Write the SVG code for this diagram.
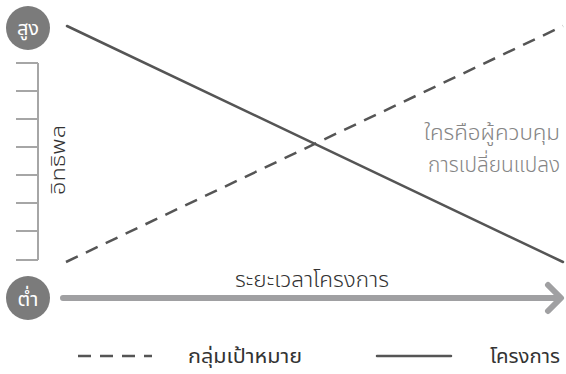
<svg xmlns="http://www.w3.org/2000/svg" width="566" height="374" viewBox="0 0 566 374">
<style>
text{font-family:"Noto Sans Thai","Noto Sans","DejaVu Sans",sans-serif;font-weight:300;}
.lbl{font-size:20px;fill:#333;}
.leg{font-size:20px;fill:#333;font-weight:400;}
.big{font-size:22px;fill:#333;}
.note{font-size:22px;fill:#858585;}
.circ{fill:#7b7b7b;}
.ctext{font-size:20px;fill:#fff;text-anchor:middle;font-weight:400;}
.ruler{stroke:#a6a6a6;stroke-width:2;fill:none;}
.solid{stroke:#555;stroke-width:2.5;fill:none;stroke-linecap:round;}
.dash{stroke:#555;stroke-width:2.5;fill:none;stroke-dasharray:13 9;}
.axis{stroke:#a0a0a2;stroke-width:6;fill:none;stroke-linecap:round;stroke-linejoin:round;}
</style>
<g id="high"><circle class="circ" cx="28" cy="28" r="22"/><text class="ctext" x="28" y="35">สูง</text></g>
<g id="low"><circle class="circ" cx="28" cy="298" r="22"/><text class="ctext" x="28" y="306">ต่ำ</text></g>
<g id="ruler">
<path class="ruler" d="M38 63V260M16 63H38M16 91H38M16 119H38M16 147H38M16 175H38M16 203H38M16 231H38M16 260H38"/>
<text class="lbl" transform="translate(65,160) rotate(-90)" text-anchor="middle" textLength="70" lengthAdjust="spacingAndGlyphs">อิทธิพล</text>
</g>
<g id="connectors">
<line class="solid" x1="67" y1="26" x2="563" y2="262"/>
<line class="dash" x1="66" y1="262" x2="563" y2="26"/>
<path class="axis" d="M63 298H560M548 285L561 298L548 311"/>
<line class="dash" x1="78" y1="356" x2="152" y2="356"/>
<line class="solid" x1="377" y1="356" x2="451" y2="356" stroke-linecap="butt"/>
</g>
<g id="axis-label"><text class="big" x="235" y="287" textLength="154" lengthAdjust="spacingAndGlyphs">ระยะเวลาโครงการ</text></g>
<g id="note"><text class="note" x="424" y="140" textLength="136" lengthAdjust="spacingAndGlyphs">ใครคือผู้ควบคุม</text><text class="note" x="428" y="172" textLength="132" lengthAdjust="spacingAndGlyphs">การเปลี่ยนแปลง</text></g>
<g id="legend"><text class="leg" x="188" y="363" textLength="114" lengthAdjust="spacingAndGlyphs">กลุ่มเป้าหมาย</text><text class="leg" x="490" y="363" textLength="70" lengthAdjust="spacingAndGlyphs">โครงการ</text></g>
</svg>
